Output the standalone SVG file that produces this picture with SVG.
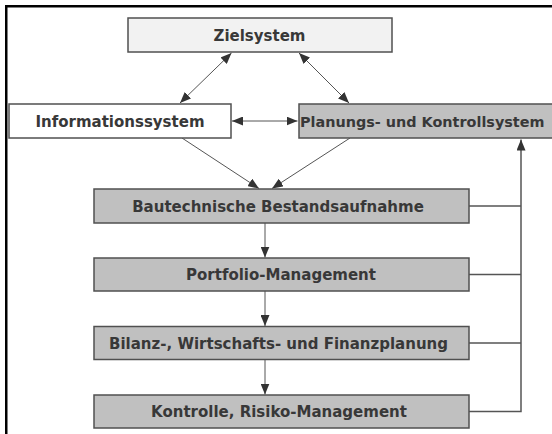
<svg xmlns="http://www.w3.org/2000/svg" width="552" height="434" viewBox="0 0 552 434">
<style>
.box{stroke:#505050;stroke-width:1.5}
.g{fill:#c0c0c0}
.t{font-family:"DejaVu Sans",Verdana,sans-serif;font-weight:bold;font-size:15px;fill:#383838;text-anchor:middle}
.c{stroke:#555;stroke-width:1;fill:none}
.c2{stroke:#555;stroke-width:1.5;fill:none}
</style>
<defs>
<marker id="a" markerUnits="userSpaceOnUse" markerWidth="11" markerHeight="9" refX="11" refY="4.5" orient="auto-start-reverse" viewBox="0 0 11 9">
<path d="M0,0 L11,4.5 L0,9 z" fill="#333"/>
</marker>
</defs>
<path d="M6.25,434 V6.25 H552" fill="none" stroke="#000" stroke-width="2.5"/>
<g id="connectors">
<line class="c" x1="180" y1="103" x2="231.5" y2="53" marker-start="url(#a)" marker-end="url(#a)"/>
<line class="c" x1="299" y1="53" x2="349" y2="103" marker-start="url(#a)" marker-end="url(#a)"/>
<line class="c" x1="232" y1="121" x2="297.5" y2="121" marker-start="url(#a)" marker-end="url(#a)"/>
<line class="c" x1="182" y1="138" x2="259" y2="188.5" marker-end="url(#a)"/>
<line class="c" x1="350" y1="138" x2="272" y2="188.5" marker-end="url(#a)"/>
<line class="c" x1="265" y1="223" x2="265" y2="257.5" marker-end="url(#a)"/>
<line class="c" x1="265" y1="291" x2="265" y2="326" marker-end="url(#a)"/>
<line class="c" x1="265" y1="359.5" x2="265" y2="394.5" marker-end="url(#a)"/>
<path class="c2" d="M469,206 H521 M469,274.5 H521 M469,343 H521 M469,411.5 H521 V139.5" marker-end="url(#a)"/>
</g>
<g id="zielsystem"><rect class="box" x="128" y="18" width="264" height="34" fill="#f2f2f2"/><text class="t" x="259.5" y="40.5">Zielsystem</text></g>
<g id="informationssystem"><rect class="box" x="9" y="104" width="222" height="34" fill="#fff"/><text class="t" x="120" y="126.5">Informationssystem</text></g>
<g id="planungssystem"><path class="box g" d="M552,104 H299 V138 H552"/><text class="t" x="300" y="126.5" style="text-anchor:start;font-size:14.4px">Planungs- und Kontrollsystem</text></g>
<g id="bautechnische"><rect class="box g" x="94" y="189" width="375" height="34"/><text class="t" x="278" y="211.5">Bautechnische Bestandsaufnahme</text></g>
<g id="portfolio"><rect class="box g" x="94" y="258" width="375" height="33"/><text class="t" x="281" y="280">Portfolio-Management</text></g>
<g id="bilanz"><rect class="box g" x="94" y="326.5" width="375" height="33"/><text class="t" x="278.5" y="348.5">Bilanz-, Wirtschafts- und Finanzplanung</text></g>
<g id="kontrolle"><rect class="box g" x="94" y="395" width="375" height="33"/><text class="t" x="279" y="417">Kontrolle, Risiko-Management</text></g>
</svg>
